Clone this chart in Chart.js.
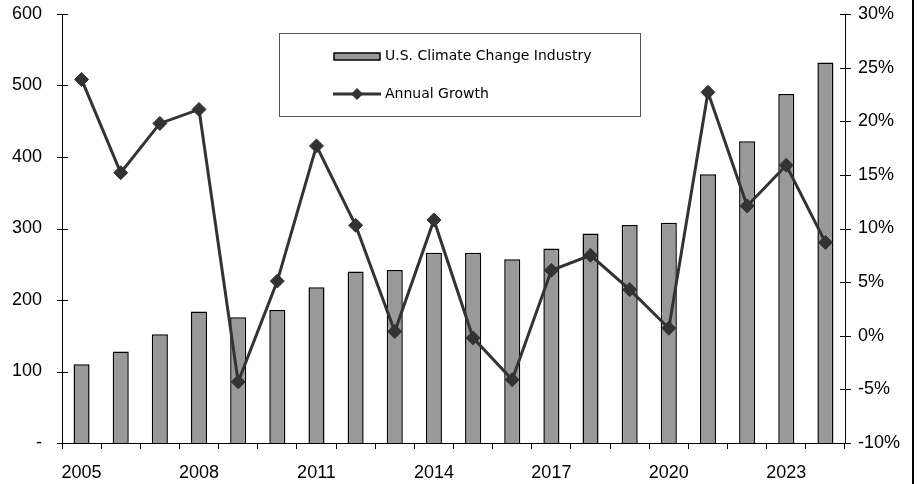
<!DOCTYPE html>
<html>
<head>
<meta charset="utf-8">
<script src="https://cdn.jsdelivr.net/npm/chart.js@4"></script>
<style>
  html, body { margin: 0; padding: 0; background: #fff; }
  #wrap { width: 918px; height: 484px; position: relative; }
</style>
</head>
<body>
<div id="wrap"><canvas id="industryChart" width="918" height="484"></canvas></div>
<script>
// values
var years = ['2005','2006','2007','2008','2009','2010','2011','2012','2013','2014',
             '2015','2016','2017','2018','2019','2020','2021','2022','2023','2024'];
var industrySize = [110, 128, 152, 184, 176, 186, 218, 240, 242, 266,
                    266, 257, 272, 293, 305, 308, 376, 422, 488, 532];
var annualGrowth = [23.9, 15.2, 19.8, 21.1, -4.3, 5.1, 17.7, 10.3, 0.4, 10.8,
                    -0.2, -4.1, 6.1, 7.5, 4.3, 0.7, 22.7, 12.1, 15.9, 8.7];
var legendLabels = ['U.S. Climate Change Industry', 'Annual Growth'];

var tickFont = { family: "'Liberation Sans', Arial, sans-serif", size: 18 };

// fixed axis sizes so the plot area sits where it does in the picture
function fixWidth(w) {
  return function(s) { s.width = w; s.paddingTop = 0; s.paddingBottom = 0; };
}

// crossing ticks on both value axes, boxed legend and the right frame line
var extras = {
  id: 'extras',
  afterDraw: function(chart) {
    var ctx = chart.ctx;
    ctx.save();
    ctx.strokeStyle = '#000';
    ctx.lineWidth = 1;
    ['y', 'y1'].forEach(function(id) {
      var s = chart.scales[id];
      var x = id === 'y' ? s.right : s.left;
      s.ticks.forEach(function(t, i) {
        var py = Math.round(s.getPixelForTick(i)) + 0.5;
        ctx.beginPath();
        ctx.moveTo(x - 5, py);
        ctx.lineTo(x + 6, py);
        ctx.stroke();
      });
    });

    // legend box
    ctx.fillStyle = '#fff';
    ctx.fillRect(279, 33, 362, 84);
    ctx.strokeStyle = '#555';
    ctx.strokeRect(279.5, 33.5, 361, 83);

    ctx.fillStyle = '#999';
    ctx.fillRect(334, 53, 46, 7);
    ctx.strokeStyle = '#000';
    ctx.lineWidth = 1.5;
    ctx.strokeRect(334, 53, 46, 7);

    ctx.strokeStyle = '#333';
    ctx.lineWidth = 3;
    ctx.beginPath();
    ctx.moveTo(333, 94);
    ctx.lineTo(381, 94);
    ctx.stroke();
    ctx.fillStyle = '#333';
    ctx.beginPath();
    ctx.moveTo(357, 88); ctx.lineTo(363, 94); ctx.lineTo(357, 100); ctx.lineTo(351, 94);
    ctx.closePath();
    ctx.fill();

    ctx.fillStyle = '#000';
    ctx.font = "14px 'DejaVu Sans', sans-serif";
    ctx.textBaseline = 'middle';
    ctx.textAlign = 'left';
    ctx.fillText(legendLabels[0], 385, 56);
    ctx.fillText(legendLabels[1], 385, 94);

    // frame line at the right edge
    ctx.fillStyle = '#000';
    ctx.fillRect(912, 0, 2, 484);
    ctx.restore();
  }
};

new Chart(document.getElementById('industryChart').getContext('2d'), {
  type: 'bar',
  data: {
    labels: years,
    datasets: [{
      type: 'line',
      label: legendLabels[1],
      data: annualGrowth,
      yAxisID: 'y1',
      order: 0,
      borderColor: '#333',
      borderWidth: 3,
      pointStyle: 'rectRot',
      pointRadius: 7,
      pointBackgroundColor: '#333',
      pointBorderColor: '#333',
      pointBorderWidth: 1,
      tension: 0
    }, {
      type: 'bar',
      label: legendLabels[0],
      data: industrySize,
      yAxisID: 'y',
      order: 1,
      backgroundColor: '#999',
      borderColor: '#000',
      borderWidth: 1.5,
      categoryPercentage: 1,
      barPercentage: 0.41
    }]
  },
  options: {
    responsive: false,
    animation: false,
    layout: { padding: { top: 14, left: 0, right: 0, bottom: 0 } },
    plugins: {
      legend: { display: false },
      tooltip: { enabled: false }
    },
    scales: {
      x: {
        grid: { drawOnChartArea: false, tickLength: 6, color: '#000', offset: true },
        border: { color: '#000', width: 1 },
        ticks: {
          color: '#000',
          font: tickFont,
          padding: 13,
          autoSkip: false,
          maxRotation: 0,
          callback: function(v, i) { return i % 3 === 0 ? years[i] : ''; }
        },
        afterFit: function(s) { s.height = 41; s.paddingLeft = 0; s.paddingRight = 0; }
      },
      y: {
        position: 'left',
        min: 0,
        max: 600,
        grid: { display: false },
        border: { color: '#000', width: 1 },
        ticks: {
          stepSize: 100,
          color: '#000',
          font: tickFont,
          padding: 12,
          callback: function(v) { return v === 0 ? '-' : v; }
        },
        afterFit: fixWidth(62)
      },
      y1: {
        position: 'right',
        min: -10,
        max: 30,
        grid: { display: false },
        border: { color: '#000', width: 1 },
        ticks: {
          stepSize: 5,
          color: '#000',
          font: tickFont,
          padding: 5,
          callback: function(v) { return v + '%'; }
        },
        afterFit: fixWidth(73)
      }
    }
  },
  plugins: [extras]
});
</script>
</body>
</html>
